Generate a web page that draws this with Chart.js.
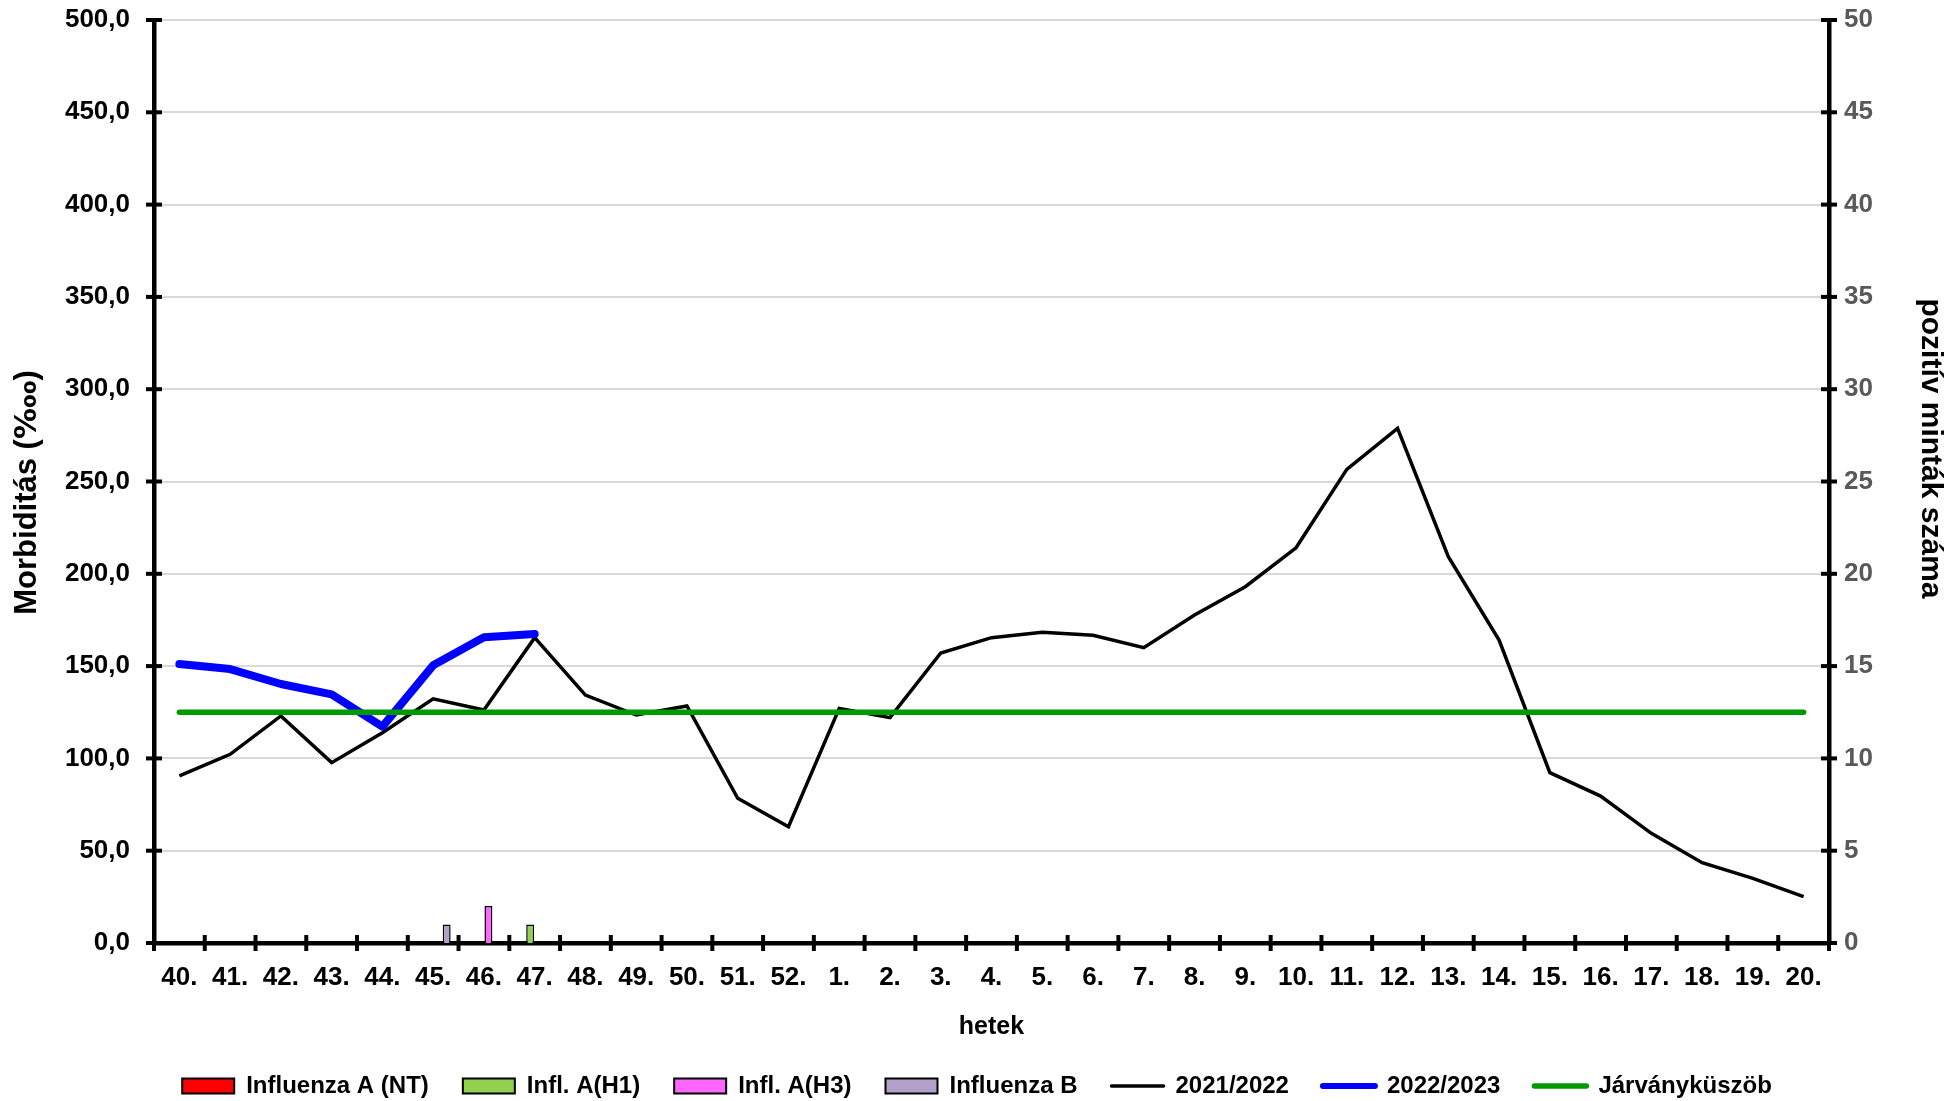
<!DOCTYPE html>
<html><head><meta charset="utf-8">
<script src="https://cdn.jsdelivr.net/npm/chart.js@4.4.0/dist/chart.umd.min.js"></script>
<style>html,body{margin:0;padding:0;background:#fff;} #wrap{width:1954px;height:1101px;}</style>
</head><body><div id="wrap"><canvas id="c" width="1954" height="1101"></canvas></div>
<script>
const weeks = ['40.','41.','42.','43.','44.','45.','46.','47.','48.','49.','50.','51.','52.',
  '1.','2.','3.','4.','5.','6.','7.','8.','9.','10.','11.','12.','13.','14.','15.','16.','17.','18.','19.','20.'];
const season2122 = [90.5,102.2,123.0,97.7,113.9,132.3,126.2,165.4,134.3,123.5,128.4,78.4,63.0,
  127.1,122.1,157.1,165.4,168.3,166.7,160.0,177.7,193.0,214.1,256.6,278.8,209.3,164.1,92.3,79.6,59.4,43.5,35.0,25.1];
const season2223 = [151.1,148.4,140.3,134.7,117.2,150.4,165.6,167.4];
const threshold = [125,125,125,125,125,125,125,125,125,125,125,125,125,125,125,125,125,125,125,125,125,125,125,125,125,125,125,125,125,125,125,125,125];
const fluANT = [0,0,0,0,0,0,0,0];
const fluAH1 = [0,0,0,0,0,0,0,1];
const fluAH3 = [0,0,0,0,0,0,2,0];
const fluB   = [0,0,0,0,0,1,0,0];
const leftTicks = [0,50,100,150,200,250,300,350,400,450,500];
const rightTicks = [0,5,10,15,20,25,30,35,40,45,50];
const Y_TITLE = 'Morbiditás (‱)';
const Y2_TITLE = 'pozitív minták száma';
const X_TITLE = 'hetek';

const FONT = "'Liberation Sans', Arial, Helvetica, 'DejaVu Sans', sans-serif";
const PLOT_LEFT = 154, PLOT_RIGHT = 1829, PLOT_TOP = 20, PLOT_BOTTOM = 943, W = 1954, H = 1101;

const tickMarks = {
  id: 'tickMarks',
  afterDraw(chart) {
    const ctx = chart.ctx, a = chart.chartArea;
    const y = chart.scales.y, y2 = chart.scales.y2, x = chart.scales.x;
    ctx.save();
    ctx.strokeStyle = '#000'; ctx.lineWidth = 4; ctx.lineCap = 'butt';
    const seg = (x1, y1, x2, y2_) => { ctx.beginPath(); ctx.moveTo(x1, y1); ctx.lineTo(x2, y2_); ctx.stroke(); };
    y.ticks.forEach((t, i) => { const p = y.getPixelForTick(i); seg(a.left - 8, p, a.left + 8, p); });
    y2.ticks.forEach((t, i) => { const p = y2.getPixelForTick(i); seg(a.right - 8, p, a.right + 8, p); });
    for (let i = 0; i <= weeks.length; i++) {
      const p = x.getPixelForValue(i - 0.5);
      seg(p, a.bottom - 8, p, a.bottom + 8);
    }
    ctx.fillStyle = '#000'; ctx.textAlign = 'center'; ctx.textBaseline = 'middle';
    const mid = (a.top + a.bottom) / 2;
    // left axis title
    ctx.save();
    ctx.font = 'bold 31px ' + FONT;
    ctx.translate(y.left + 27, mid + 11);
    ctx.rotate(-Math.PI / 2);
    ctx.fillText(Y_TITLE, 0, 0);
    ctx.restore();
    // right axis title
    ctx.save();
    ctx.font = 'bold 30px ' + FONT;
    ctx.translate(y2.right - 24, mid - 33);
    ctx.rotate(Math.PI / 2);
    ctx.fillText(Y2_TITLE, 0, 0);
    ctx.restore();
    ctx.restore();
  }
};

const barDs = (label, data, color) => ({
  type: 'bar', label, data, backgroundColor: color, borderColor: '#000', borderWidth: 1.5,
  yAxisID: 'y2', order: 3, categoryPercentage: 0.71, barPercentage: 0.88, borderSkipped: 'bottom'
});

new Chart(document.getElementById('c'), {
  data: {
    labels: weeks,
    datasets: [
      barDs('Influenza A (NT)', fluANT, '#FF0000'),
      barDs('Infl. A(H1)', fluAH1, '#92D050'),
      barDs('Infl. A(H3)', fluAH3, '#FF66FF'),
      barDs('Influenza B', fluB, '#B1A0C7'),
      { type: 'line', label: '2021/2022', data: season2122, borderColor: '#000', borderWidth: 3.5,
        pointRadius: 0, tension: 0, yAxisID: 'y', order: 2, borderJoinStyle: 'miter' },
      { type: 'line', label: '2022/2023', data: season2223, borderColor: '#0000FF', borderWidth: 8,
        pointRadius: 0, tension: 0, yAxisID: 'y', order: 1, borderCapStyle: 'round', borderJoinStyle: 'round' },
      { type: 'line', label: 'Járványküszöb', data: threshold, borderColor: '#009900', borderWidth: 5.5,
        pointRadius: 0, tension: 0, yAxisID: 'y', order: 0, borderCapStyle: 'round' }
    ]
  },
  options: {
    responsive: false, animation: false, devicePixelRatio: 1,
    layout: { padding: { top: PLOT_TOP, left: 0, right: 0, bottom: 0 } },
    plugins: {
      tooltip: { enabled: false },
      legend: {
        position: 'bottom', maxHeight: 61,
        labels: {
          font: { family: FONT, size: 24, weight: 'bold' }, color: '#000',
          boxWidth: 52, boxHeight: 15, padding: 34, usePointStyle: true, pointStyleWidth: 52,
          generateLabels(chart) {
            return chart.data.datasets.map((ds, i) => {
              const isBar = ds.type === 'bar';
              return {
                text: ds.label, datasetIndex: i, hidden: false,
                fillStyle: isBar ? ds.backgroundColor : ds.borderColor,
                strokeStyle: isBar ? '#000' : ds.borderColor,
                lineWidth: isBar ? 2 : Math.min(ds.borderWidth, 6),
                lineCap: 'round',
                pointStyle: isBar ? 'rect' : 'line',
                fontColor: '#000'
              };
            });
          }
        }
      }
    },
    scales: {
      x: {
        type: 'category', offset: true,
        grid: { display: false, drawTicks: false },
        border: { display: true, color: '#000', width: 4.5 },
        ticks: { font: { family: FONT, size: 26, weight: 'bold' }, color: '#000', padding: 19, maxRotation: 0, autoSkip: false },
        title: { display: true, text: X_TITLE, font: { family: FONT, size: 25, weight: 'bold' }, color: '#000', padding: { top: 0, bottom: -2 } },
        afterFit(scale) { const lh = scale.chart.legend ? scale.chart.legend.height : 61; scale.height = H - lh - PLOT_BOTTOM; }
      },
      y: {
        type: 'linear', position: 'left', min: 0, max: 500,
        afterBuildTicks(scale) { scale.ticks = leftTicks.map(v => ({ value: v })); },
        grid: { color: '#d9d9d9', lineWidth: 2, drawTicks: false },
        border: { display: true, color: '#000', width: 4.5 },
        ticks: { font: { family: FONT, size: 26, weight: 'bold' }, color: '#000', padding: 24,
          callback: v => v.toFixed(1).replace('.', ',') },
        title: { display: false },
        afterFit(scale) { scale.width = PLOT_LEFT; scale.paddingTop = 0; scale.paddingBottom = 0; }
      },
      y2: {
        type: 'linear', position: 'right', min: 0, max: 50,
        afterBuildTicks(scale) { scale.ticks = rightTicks.map(v => ({ value: v })); },
        grid: { display: false, drawTicks: false },
        border: { display: true, color: '#000', width: 4.5 },
        ticks: { font: { family: FONT, size: 26, weight: 'bold' }, color: '#595959', padding: 15 },
        title: { display: false },
        afterFit(scale) { scale.width = W - PLOT_RIGHT; scale.paddingTop = 0; scale.paddingBottom = 0; }
      }
    }
  },
  plugins: [tickMarks]
});
</script></body></html>
